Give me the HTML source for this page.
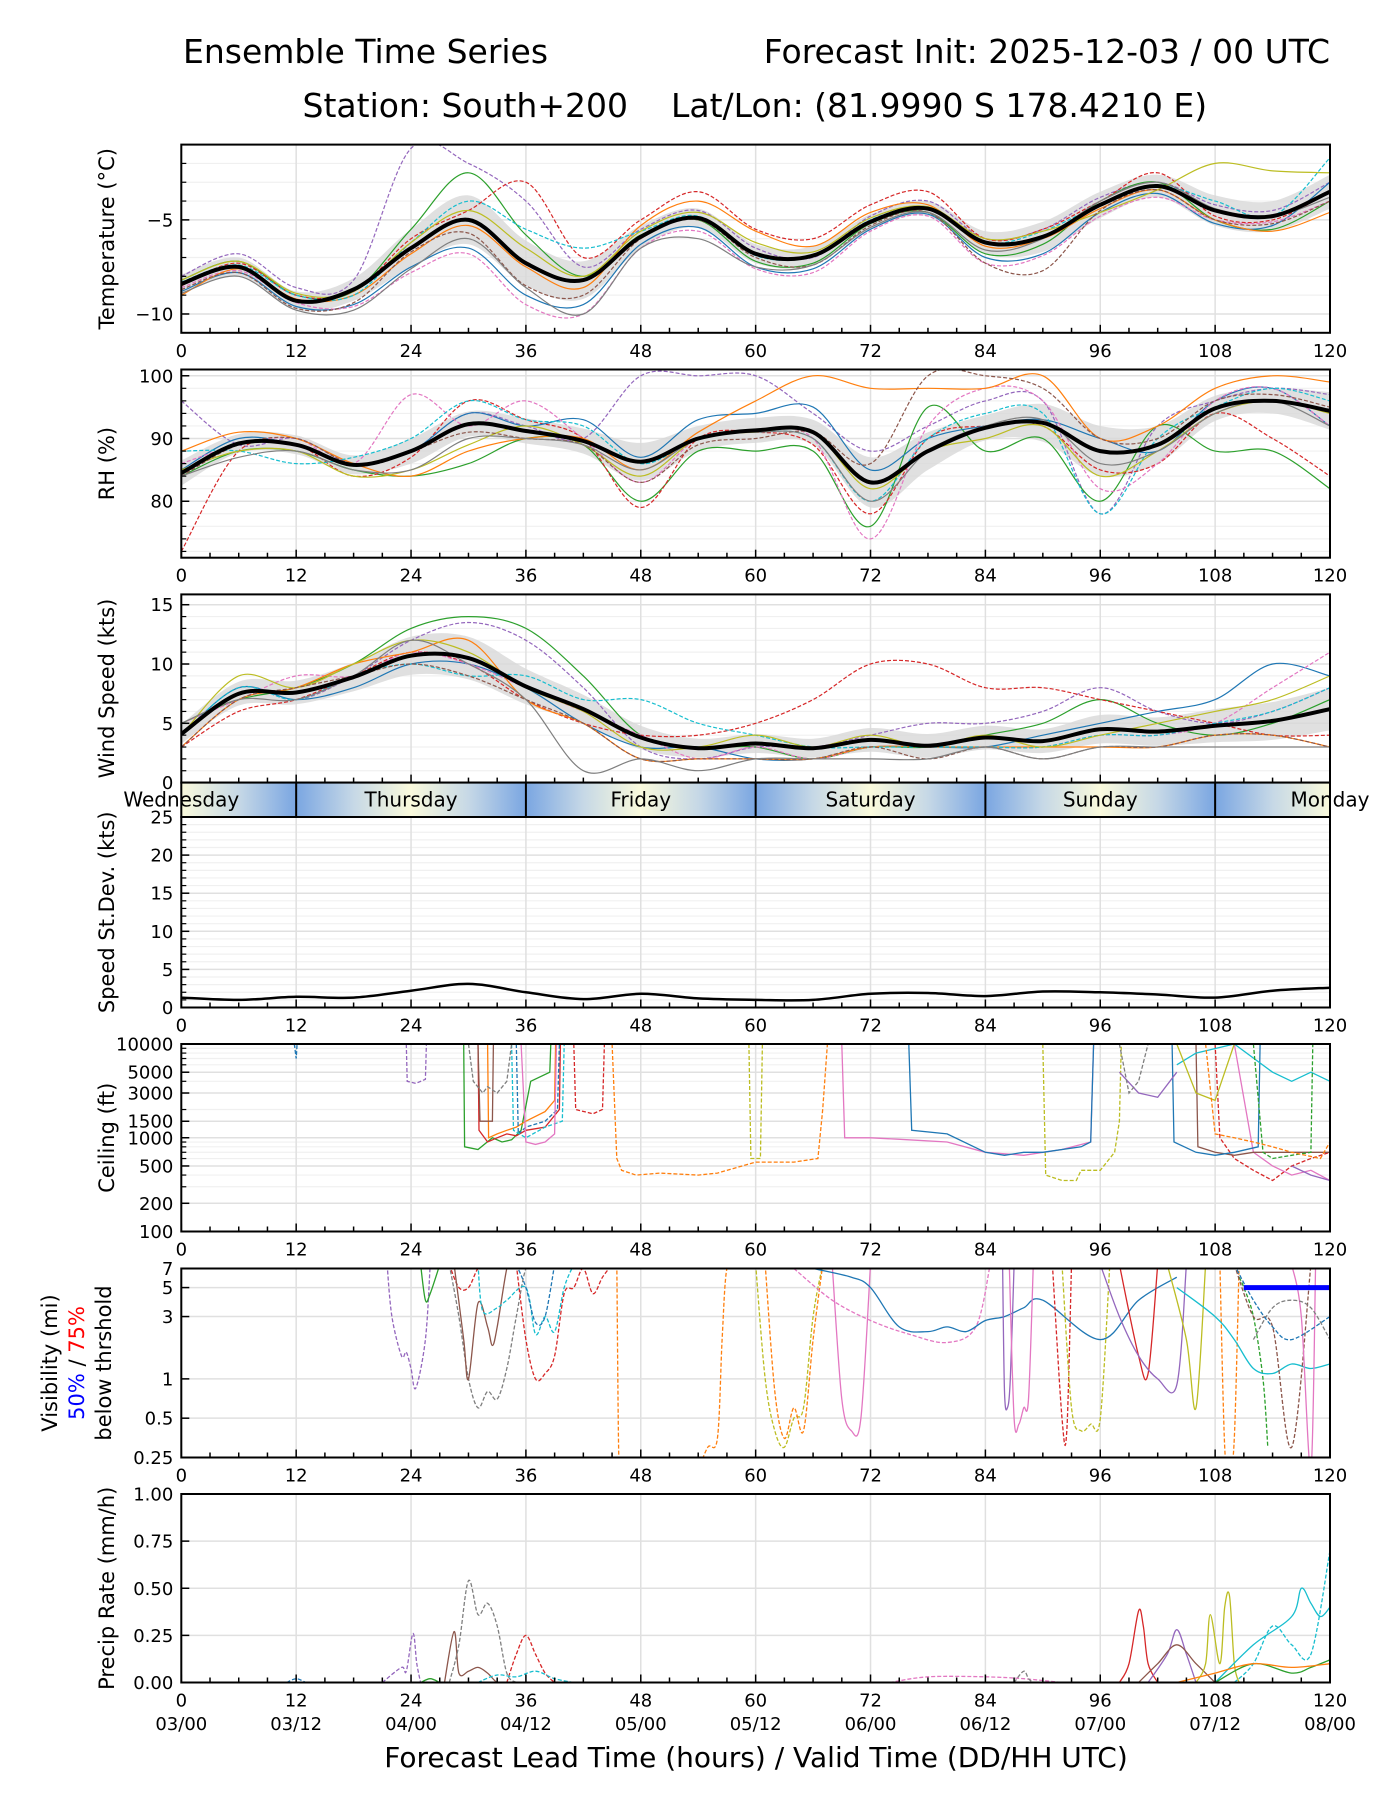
<!DOCTYPE html>
<html><head><meta charset="utf-8">
<style>
html,body{margin:0;padding:0;background:#fff;}
svg{display:block;font-family:"DejaVu Sans","Liberation Sans",sans-serif;}
</style></head>
<body>
<svg id="fig" width="1400" height="1800" viewBox="0 0 1400 1800" xmlns="http://www.w3.org/2000/svg">
<defs>
<linearGradient id="dayGrad" x1="0" x2="1" y1="0" y2="0">
<stop offset="0" stop-color="#fafadc"/>
<stop offset="0.25" stop-color="#c6d8e6"/>
<stop offset="0.5" stop-color="#7aa6e2"/>
<stop offset="0.75" stop-color="#c6d8e6"/>
<stop offset="1" stop-color="#fafadc"/>
</linearGradient>
</defs>
<text x="183" y="63" font-size="33">Ensemble Time Series</text>
<text x="1330" y="63" font-size="33" text-anchor="end">Forecast Init: 2025-12-03 / 00 UTC</text>
<text x="628" y="117" font-size="33" text-anchor="end">Station: South+200</text>
<text x="671" y="117" font-size="33" text-anchor="start">Lat/Lon: (81.9990 S 178.4210 E)</text>
<g id="root"></g>
</svg>
<script>
// ---------- DATA ----------
const hours6 = [0,6,12,18,24,30,36,42,48,54,60,66,72,78,84,90,96,102,108,114,120];
const xTicks = [0,12,24,36,48,60,72,84,96,108,120];
const dateLabels = ["03/00","03/12","04/00","04/12","05/00","05/12","06/00","06/12","07/00","07/12","08/00"];
const dayNames = ["Wednesday","Thursday","Friday","Saturday","Sunday","Monday"];
const dayCenters = [0,24,48,72,96,120];
const dayDividers = [12,36,60,84,108];
const colors = ["#1f77b4","#ff7f0e","#2ca02c","#d62728","#9467bd","#8c564b","#e377c2","#7f7f7f","#bcbd22","#17becf"];
const memberColorIdx = [4,2,3,0,6,1,9,8,5,7];

const tempMean = [-8.4,-7.5,-9.3,-8.7,-6.5,-5.0,-7.3,-8.2,-5.9,-4.9,-6.8,-6.9,-5.1,-4.4,-6.2,-5.9,-4.2,-3.2,-4.5,-4.8,-3.5];
const tempSpread = [0.5,0.5,0.5,0.6,1.0,1.3,1.2,1.0,0.6,0.5,0.5,0.5,0.4,0.4,0.6,0.8,0.7,0.6,0.8,0.8,0.9];
const tempM1 = [-8.0,-6.8,-8.6,-8.2,-1.2,-2.0,-4.0,-7.5,-5.5,-4.5,-6.5,-7.0,-4.8,-4.0,-6.0,-5.5,-3.8,-3.0,-4.2,-4.5,-3.0];
const tempM2 = [-8.2,-7.2,-9.0,-8.8,-5.5,-2.5,-5.8,-8.0,-5.8,-5.0,-7.2,-7.3,-5.2,-4.6,-6.8,-6.3,-4.0,-3.0,-5.0,-5.5,-4.0];
const tempM3 = [-8.5,-7.3,-9.0,-8.8,-6.0,-4.5,-3.0,-7.0,-5.0,-3.5,-5.5,-6.0,-4.2,-3.5,-6.0,-5.5,-4.0,-2.5,-4.8,-5.0,-3.5];
const tempM4 = [-8.8,-7.8,-9.6,-9.5,-7.5,-6.5,-9.0,-9.5,-6.3,-5.4,-7.5,-7.6,-5.5,-4.7,-7.0,-6.8,-4.6,-3.6,-5.2,-5.3,-3.0];
const tempM5 = [-8.6,-7.7,-9.4,-9.6,-7.8,-6.8,-9.5,-10.0,-6.5,-5.6,-7.6,-7.8,-5.6,-4.8,-7.3,-6.9,-4.8,-3.8,-5.0,-5.1,-4.0];
const tempM6 = [-9.0,-7.6,-9.2,-9.0,-6.8,-5.3,-7.5,-8.6,-5.3,-4.0,-5.6,-6.4,-4.6,-4.2,-6.4,-6.0,-4.4,-3.4,-5.0,-5.6,-4.6];
const tempM7 = [-8.3,-7.4,-9.0,-9.0,-6.2,-4.0,-5.5,-6.5,-5.6,-4.8,-6.9,-6.9,-5.0,-4.4,-6.2,-5.6,-4.2,-3.2,-4.0,-4.8,-1.7];
const tempM8 = [-8.2,-7.2,-8.9,-8.8,-6.2,-4.5,-6.5,-8.0,-5.6,-4.6,-6.2,-6.7,-4.9,-4.3,-6.0,-5.6,-4.6,-3.4,-2.0,-2.4,-2.5];
const tempM9 = [-8.7,-7.8,-9.7,-9.4,-6.7,-5.7,-8.5,-9.0,-6.0,-5.0,-7.0,-7.4,-5.3,-4.6,-7.3,-7.7,-4.5,-3.4,-5.0,-5.2,-4.0];
const tempM10 = [-8.9,-8.0,-9.8,-9.8,-7.6,-6.0,-8.6,-10.0,-6.5,-6.0,-7.5,-7.4,-5.4,-4.6,-6.6,-6.0,-4.0,-3.0,-4.4,-4.8,-3.8];

const rhMean = [84.5,89.2,89.0,85.8,88.0,92.3,91.2,89.6,86.3,90.0,91.3,91.0,83.0,88.0,91.7,92.5,88.0,89.0,94.8,96.0,94.4];
const rhSpread = [2,1.5,1.5,1.5,2,2,2,2,3,2,2,2,4,3,2,3,4,3,2,2,3];
const rhM1 = [96,89,90,86,88,94,92,90,100,100,100,94,88,92,96,96,78,92,96,98,97];
const rhM2 = [84,88,88,85,84,86,90,89,80,88,88,88,76,95,88,90,80,92,88,88,82];
const rhM3 = [72,88,89,84,87,96,93,90,79,90,91,89,78,90,92,92,85,86,94,90,84];
const rhM4 = [85,90,89,86,88,94,92,93,87,93,94,95,85,90,92,93,90,88,96,98,92];
const rhM5 = [86,89,90,86,97,92,96,90,83,90,91,90,74,92,98,96,82,86,96,98,92];
const rhM6 = [88,91,90,86,84,88,90,90,85,91,96,100,98,98,98,100,90,92,98,100,99];
const rhM7 = [88,88,86,87,90,96,93,92,86,90,91,90,80,90,94,94,78,90,95,98,96];
const rhM8 = [85,88,88,84,85,89,92,89,84,90,91,91,82,88,90,92,84,88,94,96,94];
const rhM9 = [84,89,90,86,88,91,90,89,83,89,90,91,86,100,100,98,90,90,96,97,95];
const rhM10 = [84,87,88,85,85,90,90,89,85,90,91,90,80,88,92,93,86,88,94,96,92];

const windMean = [4.1,7.5,7.6,8.9,10.7,10.5,8.1,6.2,3.8,2.9,3.3,2.9,3.6,3.1,3.8,3.5,4.5,4.3,4.8,5.2,6.2];
const windSpread = [0.8,1.0,1.0,1.2,1.6,1.8,1.5,1.2,1.0,0.8,0.8,0.8,1.0,1.0,1.0,1.0,1.2,1.2,1.4,1.6,1.8];
const windM1 = [4,8,7,9,12,13.5,12,8,3,2,3,3,4,5,5,6,8,6,5,6,8];
const windM2 = [5,7,8,10,13,14,13,9,4,3,3,2,3,3,4,5,7,5,4,5,7];
const windM3 = [3,6,7,9,11,10,7,5,4,4,5,7,10,10,8,8,7,6,5,4,4];
const windM4 = [4,8,7,8,10,10,8,5,3,3,2,2,3,3,3,4,5,6,7,10,9];
const windM5 = [5,7,9,9,11,10,8,6,4,2,3,2,3,3,3,3,4,4,5,8,11];
const windM6 = [3,7,8,10,11,12,7,5,2,2,2,2,3,3,3,3,3,3,4,4,3];
const windM7 = [4,8,7,9,10,9,9,7,7,5,4,3,3,3,3,3,4,4,5,6,8];
const windM8 = [4,9,8,10,12,11,8,6,3,3,4,3,4,3,4,3,4,5,6,7,9];
const windM9 = [3,7,8,9,10,9,7,5,2,2,2,2,3,2,3,2,3,3,4,4,3];
const windM10 = [5,7,7,9,12,10,7,1,2,1,2,2,2,2,3,2,3,3,3,3,3];

const stdMean = [1.3,1.0,1.4,1.3,2.2,3.1,2.0,1.1,1.8,1.2,1.0,1.0,1.8,1.9,1.5,2.1,2.0,1.7,1.3,2.2,2.6];

const ceilH = [[11.8,12,12.1],[23.5,23.6,24.5,25.5,25.6],[29.5,29.6,31,32.5,33.5,34.5,35.5,36.5,38.5,38.6],[31,31.1,32,33,34,35,36,38,39.5,39.6],[32,32.1,33,34,35,36,38,39,39.1],[31,31.2,32.5,32.6],[35,35.2,36,37,38,39.3,39.5],[34.5,34.7,36,38,39.8,40],[30,30.5,31.5,32,33,34,34.5],[35.5,36,37,38,39,39.2],[41,41.2,43,44,44.2],[45,45.5,46,47.5,50,54,56,58,60,64,66.5,67,67.5],[59.3,59.5,60.5,60.7],[90,90.3,92,93.5,94,96,97.5,98,98.2],[69,69.3,72,76,80,84,88,92,95,95.3],[76,76.3,80,84,86,88,90,94,95,95.3],[108,108.5,110,112,114,116,118,120],[110,112,114,116,118,120],[106,106.2,108,110,112,116,120],[103.5,103.7,106,108,110,112.5,112.7],[104,106,110,114,116,118,120],[104,106,108,110],[98,100,102,104],[116,118,120],[112,113,114,116,118,118.2],[107,108,110,112,114,116,119,120],[98,99,100,101]];
const ceilV = [[10000,7000,10000],[10000,4000,3800,4200,10000],[10000,800,750,1000,900,950,1200,4000,5000,10000],[10000,1200,900,1000,1100,1050,1200,1300,2000,10000],[10000,1000,1100,1200,1300,1500,1900,2500,10000],[10000,1500,1500,10000],[10000,1100,1300,1400,1500,2000,10000],[10000,1200,1000,1300,1500,10000],[10000,4000,3000,3500,3000,4000,10000],[10000,900,850,900,1100,10000],[10000,2000,1800,2000,10000],[10000,600,450,400,420,400,420,480,550,550,600,2000,10000],[10000,600,600,10000],[10000,400,350,350,450,450,700,1500,10000],[10000,1000,1000,950,900,700,650,750,900,10000],[10000,1200,1100,700,650,700,700,800,900,10000],[10000,1000,600,450,350,500,600,700],[10000,700,500,400,450,350],[10000,800,700,650,700,700,700],[10000,900,700,650,700,800,10000],[6000,8000,10000,5000,4000,5000,4000],[10000,3000,2500,10000],[5000,3000,2700,5000],[500,400,350],[10000,700,600,650,700,10000],[10000,1100,1000,900,800,700,600,900],[10000,3000,4000,10000]];
const ceilC = [0,4,2,3,1,5,0,9,7,6,3,1,8,8,6,0,3,6,5,0,9,8,4,4,2,1,7];
const ceilD = [1,1,0,0,0,0,1,1,1,0,1,1,1,1,0,0,1,0,0,0,0,0,0,0,1,1,1];

const visH = [[21.5,22,23,23.5,24,24.5,25.5,26],[25,25.5,26,27],[28,29,30,31,32,33],[28,29,30,31,32,33,34,35,36,37],[28.5,29.5,30,31,32,32.5,33,34,34.5],[31,31.5,33,34,36,37,38,39,40,41],[35,36,37,38,39,40,41,42,43,44,45],[35,36,37,38,39],[45.5,45.7,46],[54,55,56,56.5,57,58],[60,61,62,63,64,65,66,67],[61,62,63,64,65,66,67],[68,69,70,71,72],[64,68,72,76,80,83,84.5],[66,70,72,75,78,80,82,84,86,88,90,96,100,104],[85.8,86,86.3,86.6,87],[86.5,87,87.5,88,88.5,89],[91,92,92.5,93],[92,93,94,95,96,97],[98,100,101,102],[96,98,100,102,104,105],[103,105,106,107],[108.5,109,109.5,110,110.5],[110.5,111,112,113,113.5],[104,108,110,112,114,116,118,120],[110,112,114,116,118],[116,117,118,118.5],[112,114,116,118,120],[110,112,114,116,120]];
const visV = [[10,3,1.5,1.6,1.2,0.85,2,10],[10,4,4.5,10],[10,5,5,7,10,10],[10,3,1,0.6,0.8,0.7,1.2,3,7,10],[10,2,1,3.8,2.5,1.8,2.5,7,10],[10,3.3,3.5,4,5,2.2,3,2.3,5,10],[10,2,1,1.1,1.5,4.5,5,7,4.5,6,10],[10,5,2.7,3,10],[10,0.25,0.1],[0.1,0.3,0.35,2,7,10],[10,1,0.4,0.3,0.5,0.6,3,10],[10,0.8,0.35,0.6,0.4,2,10],[10,0.7,0.4,0.5,10],[7,4,2.8,2.2,1.9,2.5,10],[7,6,5,2.5,2.3,2.5,2.3,2.8,3,3.5,4,2,4,6],[10,0.8,0.6,1.0,10],[10,0.5,0.45,0.6,0.7,10],[10,0.5,0.4,10],[10,0.6,0.4,0.45,0.5,10],[10,1.5,1.1,10],[10,3,1.5,1.0,0.9,10],[10,2,0.6,10],[10,0.3,0.2,0.35,10],[6,5,3,1,0.3],[5,3,2,1.2,1.1,1.3,1.2,1.3],[10,3,2.5,0.3,10],[10,3,0.2,10],[2,3.5,4,3.5,2],[10,4,2.5,2,3]];
const visC = [4,2,3,7,5,9,3,0,1,1,8,1,6,6,0,4,6,3,8,3,4,8,1,2,9,5,6,7,0];
const visD = [1,0,1,1,0,1,1,1,1,1,1,1,0,1,0,0,0,1,1,0,0,0,1,1,0,1,0,1,1];
const visThreshH = [111,120];
const visThreshV = [5,5];

const prH = [[11,12,13],[21,23,23.5,24.2,24.6,25],[27.5,28.5,29,30,31,32,33,34],[28,29,30,31,32,33,34,35],[34,35,36,37,38,39],[31,33,35,37,39,41],[25,26,27],[74,78,84,88,92],[87,88,88.5,89],[98,99,100,100.5,101,102],[101,103,104,105,106],[100,102,104,106,108],[106,107,107.5,108.5,109,109.5,110,110.5],[108,112,116,117,118,119,120],[110,112,114,116,118,120],[108,112,116,118,120],[104,108,112,116,120]];
const prV = [[0,0.02,0],[0,0.08,0.06,0.26,0.1,0],[0,0.27,0.05,0.06,0.08,0.05,0,0],[0,0.2,0.54,0.36,0.42,0.3,0.05,0],[0,0.15,0.25,0.15,0.05,0],[0,0.04,0.03,0.06,0.02,0],[0,0.02,0],[0,0.03,0.03,0.02,0],[0,0.06,0.02,0],[0,0.1,0.38,0.3,0.1,0],[0,0.15,0.28,0.15,0],[0,0.1,0.2,0.1,0],[0,0.1,0.36,0.1,0.4,0.46,0.1,0],[0,0.2,0.35,0.5,0.42,0.35,0.4],[0,0.1,0.3,0.2,0.15,0.7],[0,0.1,0.05,0.08,0.12],[0,0.05,0.1,0.08,0.1]];
const prC = [0,4,5,7,3,9,2,6,7,3,4,5,8,9,9,2,1];
const prD = [1,1,0,1,1,1,0,1,1,0,0,0,0,0,1,0,0];

// ---------- DRAWING ----------
const NS = "http://www.w3.org/2000/svg";
const root = document.getElementById("root");
const X0 = 181.3, X1 = 1330;
function xs(h){ return X0 + h/120*(X1-X0); }
function mk(tag, attrs, parent){ const e=document.createElementNS(NS,tag); for(const k in attrs) e.setAttribute(k,attrs[k]); (parent||root).appendChild(e); return e; }
function smoothPath(pts){
  let d="M"+pts[0][0].toFixed(1)+","+pts[0][1].toFixed(1);
  for(let i=0;i<pts.length-1;i++){
    const p0=pts[Math.max(0,i-1)],p1=pts[i],p2=pts[i+1],p3=pts[Math.min(pts.length-1,i+2)];
    const c1=[p1[0]+(p2[0]-p0[0])/6,p1[1]+(p2[1]-p0[1])/6], c2=[p2[0]-(p3[0]-p1[0])/6,p2[1]-(p3[1]-p1[1])/6];
    d+=" C"+c1[0].toFixed(1)+","+c1[1].toFixed(1)+" "+c2[0].toFixed(1)+","+c2[1].toFixed(1)+" "+p2[0].toFixed(1)+","+p2[1].toFixed(1);
  }
  return d;
}
function linePath(pts){ return "M"+pts.map(p=>p[0].toFixed(1)+","+p[1].toFixed(1)).join(" L"); }

let clipId=0;
function panel(name, top, bot, ys, majors, minors, labels, ylabel, opts){
  opts=opts||{};
  const g=mk("g",{});
  
  
  const cid="clip"+(clipId++);
  const cp=mk("clipPath",{id:cid},g); mk("rect",{x:X0,y:top,width:X1-X0,height:bot-top},cp);
  minors.forEach(v=>{ const y=ys(v); mk("line",{x1:X0,x2:X1,y1:y,y2:y,stroke:"#f0f0f0","stroke-width":1.2},g); });
  majors.forEach(v=>{ const y=ys(v); mk("line",{x1:X0,x2:X1,y1:y,y2:y,stroke:"#e0e0e0","stroke-width":1.5},g); });
  xTicks.forEach(h=>{ mk("line",{x1:xs(h),x2:xs(h),y1:top,y2:bot,stroke:"#e0e0e0","stroke-width":1.5},g); });
  const data=mk("g",{"clip-path":"url(#"+cid+")"},g);
  mk("rect",{x:X0,y:top,width:X1-X0,height:bot-top,fill:"none",stroke:"#000","stroke-width":2},g);
  for(let h=0;h<=120;h+=3){ const L=(h%12===0)?8:5; mk("line",{x1:xs(h),x2:xs(h),y1:bot,y2:bot-L,stroke:"#000","stroke-width":1.5},g); }
  majors.forEach(v=>{ const y=ys(v); mk("line",{x1:X0,x2:X0+8,y1:y,y2:y,stroke:"#000","stroke-width":1.5},g); });
  minors.forEach(v=>{ const y=ys(v); mk("line",{x1:X0,x2:X0+5,y1:y,y2:y,stroke:"#000","stroke-width":1.2},g); });
  labels.forEach((t,i)=>{ const tx=mk("text",{x:X0-8,y:ys(majors[i])+6.5,"font-size":18,"text-anchor":"end"},g); tx.textContent=t; });
  if(!opts.noX){ xTicks.forEach(h=>{ const tx=mk("text",{x:xs(h),y:bot+24,"font-size":18,"text-anchor":"middle"},g); tx.textContent=String(h); }); }
  if(ylabel){ const cy=(top+bot)/2; const lx=opts.lx||114; const tx=mk("text",{x:lx,y:cy,"font-size":21,"text-anchor":"middle",transform:"rotate(-90 "+lx+" "+cy+")"},g); tx.textContent=ylabel;
    
     }
  return data;
}
function drawMembers(g, arrs, ys, kind){
  arrs.forEach((a,i)=>{
    const pts=a.map((v,j)=>[xs(hours6[j]),ys(v)]);
    const p=mk("path",{d:smoothPath(pts),fill:"none",stroke:colors[memberColorIdx[i]],"stroke-width":1.2,"stroke-dasharray":(i%2===0)?"4,2":"none"},g);
    
    
  });
}
function drawBand(g, mean, spread, ys, kind){
  const up=mean.map((v,j)=>[xs(hours6[j]),ys(v+spread[j])]);
  const dn=mean.map((v,j)=>[xs(hours6[j]),ys(v-spread[j])]).reverse();
  const d=smoothPath(up)+" L"+smoothPath(dn).slice(1)+" Z";
  const p=mk("path",{d:d,fill:"#d8d8d8",opacity:0.8},g);
  
  
}
function drawMean(g, mean, ys, kind, w){
  const pts=mean.map((v,j)=>[xs(hours6[j]),ys(v)]);
  const p=mk("path",{d:smoothPath(pts),fill:"none",stroke:"#000","stroke-width":w||4},g);
  
  
}
function drawSeries(g, H, V, C, D, ys, kind, smooth){
  H.forEach((hh,i)=>{
    const pts=hh.map((h,j)=>[xs(h),ys(V[i][j])]);
    const p=mk("path",{d:smooth?smoothPath(pts):linePath(pts),fill:"none",stroke:colors[C[i]],"stroke-width":1.3,"stroke-dasharray":D[i]?"4,2":"none"},g);
    
    
  });
}
function range(a,b,s){ const r=[]; for(let v=a;v<=b+1e-9;v+=s) r.push(+v.toFixed(3)); return r; }

// Temperature
const tT=144.6,tB=332.8, tMin=-11,tMax=-1;
const yT=v=>tB-(v-tMin)/(tMax-tMin)*(tB-tT);
let g=panel("temperature",tT,tB,yT,[-10,-5],range(-11,-1,1).filter(v=>v!==-10&&v!==-5),["\u221210","\u22125"],"Temperature (\u00b0C)");
drawBand(g,tempMean,tempSpread,yT,"temp");
drawMembers(g,[tempM1,tempM2,tempM3,tempM4,tempM5,tempM6,tempM7,tempM8,tempM9,tempM10],yT,"temp");
drawMean(g,tempMean,yT,"temp");

// RH
const rT=369.5,rB=557.7,rMin=71,rMax=101;
const yR=v=>rB-(v-rMin)/(rMax-rMin)*(rB-rT);
g=panel("rh",rT,rB,yR,[80,90,100],range(72,100,2).filter(v=>v%10!==0),["80","90","100"],"RH (%)");
drawBand(g,rhMean,rhSpread,yR,"rh");
drawMembers(g,[rhM1,rhM2,rhM3,rhM4,rhM5,rhM6,rhM7,rhM8,rhM9,rhM10],yR,"rh");
drawMean(g,rhMean,yR,"rh");

// Wind
const wT=594.4,wB=782.6,wMax=15.87;
const yW=v=>wB-v/wMax*(wB-wT);
g=panel("wind-speed",wT,wB,yW,[0,5,10,15],range(1,15,1).filter(v=>v%5!==0),["0","5","10","15"],"Wind Speed (kts)",{noX:true});
drawBand(g,windMean,windSpread,yW,"wind");
drawMembers(g,[windM1,windM2,windM3,windM4,windM5,windM6,windM7,windM8,windM9,windM10],yW,"wind");
drawMean(g,windMean,yW,"wind");

// Day band
const bT=782.6,bB=817;
const band=mk("g",{});


for(let k=0;k<5;k++){ mk("rect",{x:xs(k*24),y:bT,width:xs(24)-xs(0),height:bB-bT,fill:"url(#dayGrad)"},band); }
dayDividers.forEach(h=>{ mk("line",{x1:xs(h),x2:xs(h),y1:bT,y2:bB,stroke:"#000","stroke-width":2},band); });
mk("rect",{x:X0,y:bT,width:X1-X0,height:bB-bT,fill:"none",stroke:"#000","stroke-width":2},band);
dayNames.forEach((n,i)=>{ const t=mk("text",{x:xs(dayCenters[i]),y:bT+24,"font-size":20,"text-anchor":"middle"},band); t.textContent=n;
  
   });

// Std dev
const sT=817,sB=1007.5;
const yS=v=>sB-v/25*(sB-sT);
g=panel("speed-stdev",sT,sB,yS,[0,5,10,15,20,25],range(1,24,1).filter(v=>v%5!==0),["0","5","10","15","20","25"],"Speed St.Dev. (kts)");
drawMean(g,stdMean,yS,"stdev",2.5);

// Ceiling
const cT=1044,cB=1231.5;
const yC=v=>cT+(4-Math.log10(v))/2*(cB-cT);
g=panel("ceiling",cT,cB,yC,[100,200,500,1000,1500,3000,5000,10000],[300,400,600,700,800,900,2000,4000,6000,7000,8000,9000],["100","200","500","1000","1500","3000","5000","10000"],"Ceiling (ft)");
drawSeries(g,ceilH,ceilV,ceilC,ceilD,v=>yC(Math.min(v,10500)),"ceiling",false);

// Visibility
const vT=1268.5,vB=1457.5;
const lv=Math.log(7)-Math.log(0.25);
const yV=v=>vT+(Math.log(7)-Math.log(v))/lv*(vB-vT);
g=panel("visibility",vT,vB,yV,[0.25,0.5,1,3,5,7],[],["0.25","0.5","1","3","5","7"],null);
drawSeries(g,visH,visV,visC,visD,v=>yV(Math.max(0.2,Math.min(v,7.5))),"visibility",true);
const thr=mk("path",{d:linePath(visThreshH.map((h,j)=>[xs(h),yV(visThreshV[j])])),stroke:"#0000ff","stroke-width":5,fill:"none"},g);


{ const cy=(vT+vB)/2;
  const t1=mk("text",{x:57,y:cy,"font-size":21,"text-anchor":"middle",transform:"rotate(-90 57 "+cy+")"}); t1.textContent="Visibility (mi)";
   
  const t2=mk("text",{x:84,y:cy,"font-size":21,"text-anchor":"middle",transform:"rotate(-90 84 "+cy+")"});
   
  const s1=mk("tspan",{fill:"#0000ff"},t2); s1.textContent="50%";
  const s2=mk("tspan",{fill:"#000"},t2); s2.textContent=" / ";
  const s3=mk("tspan",{fill:"#ff0000"},t2); s3.textContent="75%";
  const t3=mk("text",{x:111,y:cy,"font-size":21,"text-anchor":"middle",transform:"rotate(-90 111 "+cy+")"}); t3.textContent="below thrshold";
    }

// Precip
const pT=1494,pB=1682.5;
const yP=v=>pB-v*(pB-pT);
g=panel("precip-rate",pT,pB,yP,[0,0.25,0.5,0.75,1],[],["0.00","0.25","0.50","0.75","1.00"],"Precip Rate (mm/h)");
drawSeries(g,prH,prV,prC,prD,yP,"precip",true);
xTicks.forEach((h,i)=>{ const t=mk("text",{x:xs(h),y:1730,"font-size":18,"text-anchor":"middle"}); t.textContent=dateLabels[i]; });
const xt=mk("text",{x:756,y:1767,"font-size":28,"text-anchor":"middle"}); xt.textContent="Forecast Lead Time (hours) / Valid Time (DD/HH UTC)";


</script>
</body></html>
